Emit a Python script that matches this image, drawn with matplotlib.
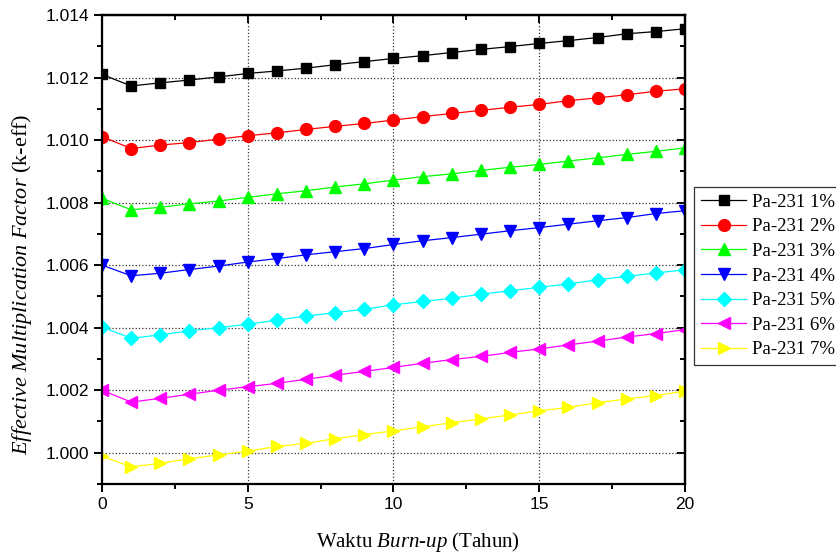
import matplotlib
matplotlib.use("Agg")
import matplotlib.pyplot as plt
from matplotlib.ticker import MultipleLocator, FormatStrFormatter

plt.rcParams['mathtext.fontset'] = 'custom'
plt.rcParams['mathtext.rm'] = 'Liberation Serif'
plt.rcParams['mathtext.it'] = 'Liberation Serif:italic'

# burn-up time (years)
years = list(range(21))

# k-eff per Pa-231 loading
keff_1 = [1.01210, 1.01173, 1.01183, 1.01192, 1.01202, 1.01213, 1.01221, 1.01230, 1.01241, 1.01251, 1.01261,
          1.01270, 1.01280, 1.01290, 1.01299, 1.01309, 1.01318, 1.01328, 1.01340, 1.01347, 1.01356]
keff_2 = [1.01011, 1.00973, 1.00984, 1.00992, 1.01003, 1.01014, 1.01023, 1.01034, 1.01044, 1.01053, 1.01064,
          1.01075, 1.01085, 1.01095, 1.01105, 1.01114, 1.01126, 1.01135, 1.01145, 1.01156, 1.01164]
keff_3 = [1.00814, 1.00777, 1.00785, 1.00796, 1.00805, 1.00817, 1.00828, 1.00838, 1.00850, 1.00860, 1.00872,
          1.00883, 1.00892, 1.00903, 1.00913, 1.00922, 1.00933, 1.00943, 1.00954, 1.00964, 1.00975]
keff_4 = [1.00600, 1.00566, 1.00574, 1.00586, 1.00597, 1.00610, 1.00621, 1.00633, 1.00643, 1.00653, 1.00666,
          1.00678, 1.00688, 1.00699, 1.00710, 1.00720, 1.00731, 1.00742, 1.00752, 1.00765, 1.00774]
keff_5 = [1.00402, 1.00366, 1.00377, 1.00390, 1.00400, 1.00411, 1.00424, 1.00437, 1.00448, 1.00459, 1.00473,
          1.00484, 1.00494, 1.00507, 1.00518, 1.00529, 1.00540, 1.00553, 1.00564, 1.00575, 1.00585]
keff_6 = [1.00200, 1.00162, 1.00174, 1.00187, 1.00200, 1.00211, 1.00222, 1.00235, 1.00248, 1.00260, 1.00273,
          1.00286, 1.00298, 1.00308, 1.00321, 1.00332, 1.00345, 1.00357, 1.00370, 1.00381, 1.00394]
keff_7 = [0.99989, 0.99955, 0.99966, 0.99981, 0.99993, 1.00005, 1.00020, 1.00030, 1.00045, 1.00058, 1.00070,
          1.00083, 1.00096, 1.00108, 1.00121, 1.00134, 1.00145, 1.00160, 1.00172, 1.00183, 1.00197]

labels = ['Pa-231 1%', 'Pa-231 2%', 'Pa-231 3%', 'Pa-231 4%', 'Pa-231 5%', 'Pa-231 6%', 'Pa-231 7%']
series = [keff_1, keff_2, keff_3, keff_4, keff_5, keff_6, keff_7]
colors = ['#000000', '#ff0000', '#00ff00', '#0000ff', '#00ffff', '#ff00ff', '#ffff00']
markers = ['s', 'o', '^', 'v', 'D', '<', '>']

fig = plt.figure(figsize=(8.37, 5.59), dpi=100)
ax = fig.add_axes([102 / 837, 1 - 484 / 559, 583 / 837, 469 / 559])

for vals, lab, c, m in zip(series, labels, colors, markers):
    ms = 7 if m in ('s', 'D') else 8.5
    ax.plot(years, vals, color=c, marker=m, markersize=ms, linewidth=0.9, label=lab)

ax.set_xlim(0, 20)
ax.set_ylim(0.999, 1.014)
ax.xaxis.set_major_locator(MultipleLocator(5))
ax.xaxis.set_minor_locator(MultipleLocator(2.5))
ax.yaxis.set_major_locator(MultipleLocator(0.002))
ax.yaxis.set_minor_locator(MultipleLocator(0.001))
ax.yaxis.set_major_formatter(FormatStrFormatter('%.3f'))

ax.grid(True, which='major', linestyle=':', color='#333333', linewidth=0.9)
for s in ax.spines.values():
    s.set_linewidth(1.6)

ax.tick_params(which='both', direction='out', top=False, right=False, width=1.4)
ax.tick_params(which='major', length=6, labelsize=12.5)
ax.tick_params(which='minor', length=3.5)
for lab in ax.get_xticklabels() + ax.get_yticklabels():
    lab.set_family('Liberation Sans')

# inward ticks on top and right, Origin style
sec_x = ax.secondary_xaxis('top')
sec_x.xaxis.set_major_locator(MultipleLocator(5))
sec_x.xaxis.set_minor_locator(MultipleLocator(2.5))
sec_x.tick_params(which='both', direction='in', labeltop=False, width=1.4)
sec_x.tick_params(which='major', length=6)
sec_x.tick_params(which='minor', length=3.5)
sec_x.spines['top'].set_linewidth(1.6)
sec_y = ax.secondary_yaxis('right')
sec_y.yaxis.set_major_locator(MultipleLocator(0.002))
sec_y.yaxis.set_minor_locator(MultipleLocator(0.001))
sec_y.tick_params(which='both', direction='in', labelright=False, width=1.4)
sec_y.tick_params(which='major', length=6)
sec_y.tick_params(which='minor', length=3.5)
sec_y.spines['right'].set_linewidth(1.6)

ax.set_xlabel(r'Waktu $\mathit{Burn}$-$\mathit{up}$ (Tahun)', fontsize=15,
              family='Liberation Serif')
ax.xaxis.set_label_coords(0.542, -0.098)
ax.set_ylabel(r'$\mathit{Effective\ Multiplication\ Factor}$ (k-eff)', fontsize=16,
              family='Liberation Serif')
ax.yaxis.set_label_coords(-0.117, 0.425)

leg = fig.legend(loc='upper left', bbox_to_anchor=(694 / 837, 1 - 187 / 559),
                 prop={'family': 'Liberation Serif', 'size': 13.5},
                 frameon=True, fancybox=False, edgecolor='black',
                 handlelength=2.45, handletextpad=0.27, labelspacing=0.4,
                 borderpad=0.35, borderaxespad=0)
leg.get_frame().set_linewidth(0.9)

fig.savefig('out.png', dpi=100)
